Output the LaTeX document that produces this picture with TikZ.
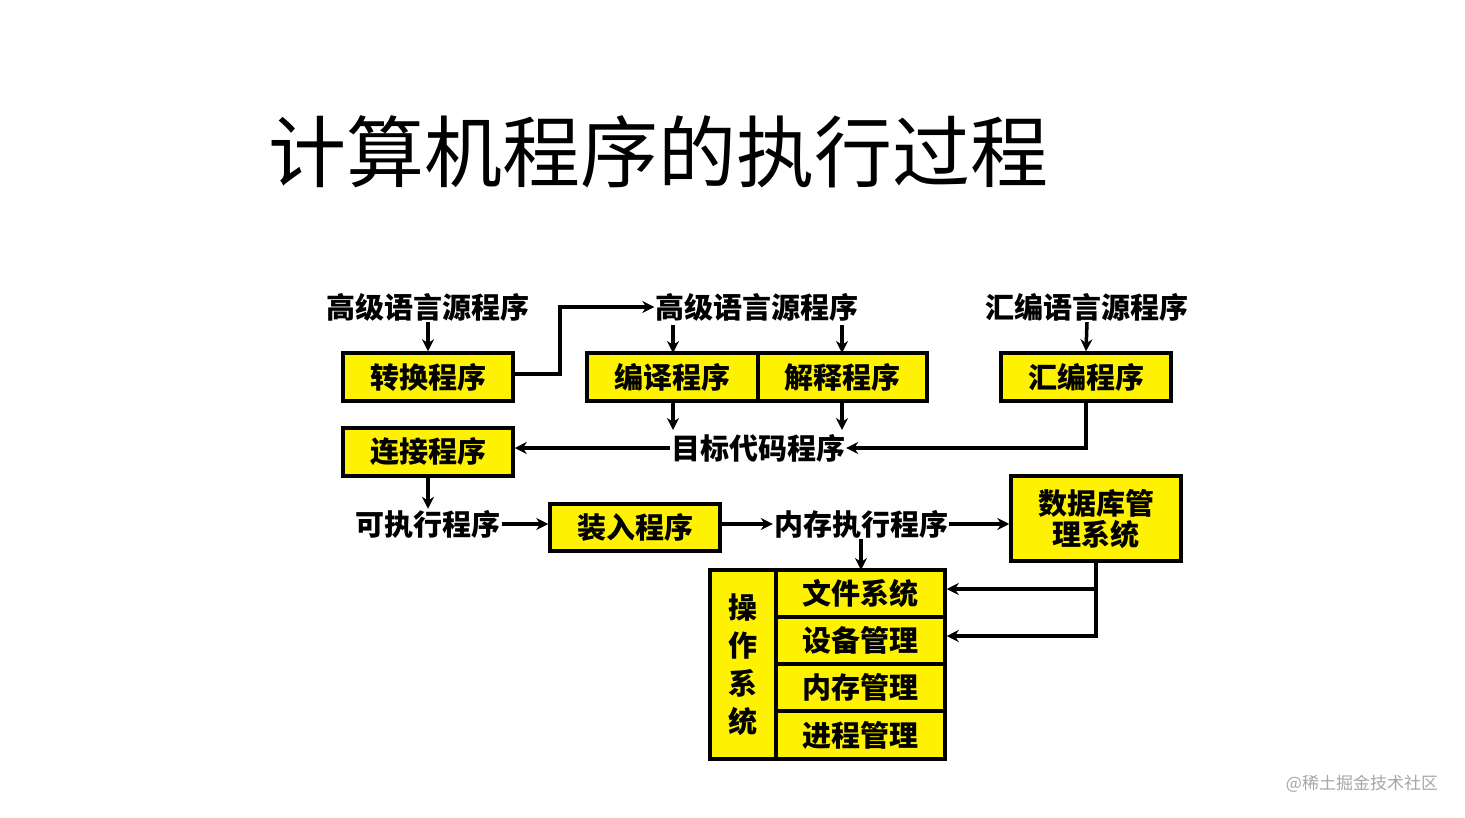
\documentclass[tikz,border=0pt]{standalone}
\usepackage{fontspec}
\newfontfamily\cjk{Noto Sans CJK SC}
\usetikzlibrary{arrows.meta}
\begin{document}
\begin{tikzpicture}[x=1pt,y=-1pt,
  box/.style={draw=black,line width=3.5pt,fill=yellow,font=\cjk\bfseries\fontsize{29}{31}\selectfont,inner sep=0pt,anchor=center},
  lbl/.style={font=\cjk\bfseries\fontsize{29}{31}\selectfont,inner sep=1pt},
  arr/.style={line width=3.5pt,-{Stealth[length=12pt,width=12pt]}},
  ln/.style={line width=3.5pt}]
\useasboundingbox (0,0) rectangle (1465,817);
\node[font=\cjk\fontsize{78}{84}\selectfont] (title) at (658,152) {计算机程序的执行过程};
\node[box,minimum width=170,minimum height=48] (zh) at (428,377) {转换程序};
\node[box,minimum width=171,minimum height=48] (by) at (672.5,377) {编译程序};
\node[box,minimum width=169,minimum height=48] (js) at (842.5,377) {解释程序};
\node[box,minimum width=170,minimum height=48] (hb) at (1086,377) {汇编程序};
\node[box,minimum width=170,minimum height=48] (lj) at (428,452) {连接程序};
\node[box,minimum width=170,minimum height=47] (zr) at (635,527.5) {装入程序};
\node[box,minimum width=170,minimum height=85,align=center] (db) at (1096,518.5) {数据库管\\理系统};
\node[box,minimum width=66,minimum height=189,align=center,font=\cjk\bfseries\fontsize{29}{38}\selectfont] (os) at (743,664.5) {操\\作\\系\\统};
\node[box,minimum width=169,minimum height=47] (wj) at (860.5,593.5) {文件系统};
\node[box,minimum width=169,minimum height=47] (sb) at (860.5,640.5) {设备管理};
\node[box,minimum width=169,minimum height=47] (nc) at (860.5,687.5) {内存管理};
\node[box,minimum width=169,minimum height=48] (jc) at (860.5,735) {进程管理};
\node[lbl] (s1) at (428,307) {高级语言源程序};
\node[lbl] (s2) at (757,307) {高级语言源程序};
\node[lbl] (s3) at (1087,307) {汇编语言源程序};
\node[lbl] (mb) at (758,448) {目标代码程序};
\node[lbl] (kz) at (428,524) {可执行程序};
\node[lbl] (nz) at (861,524) {内存执行程序};
\node[font=\cjk\fontsize{17}{19}\selectfont,text=gray!70] (wm) at (1362,784) {@稀土掘金技术社区};
\draw[arr] (s1.south) -- (zh.north);
\draw[arr] (zh.east|-0,374) -- (560,374) -- (560,307) -- (s2.west);
\draw[arr] (673,325) -- (673,353);
\draw[arr] (842,325) -- (842,353);
\draw[arr] (s3.south) -- (hb.north);
\draw[arr] (673,401) -- (673,430);
\draw[arr] (842,401) -- (842,430);
\draw[arr] (hb.south) -- (1086,448) -- (mb.east);
\draw[arr] (mb.west) -- (lj.east|-0,448);
\draw[arr] (lj.south) -- (kz.north);
\draw[arr] (kz.east) -- (zr.west|-0,524);
\draw[arr] (zr.east|-0,524) -- (nz.west);
\draw[arr] (nz.east) -- (db.west|-0,524);
\draw[arr] (nz.south) -- (861,570);
\draw[ln] (db.south) -- (1096,636);
\draw[arr] (1097.75,589) -- (wj.east|-0,589);
\draw[arr] (1097.75,636) -- (sb.east|-0,636);
\end{tikzpicture}
\end{document}
